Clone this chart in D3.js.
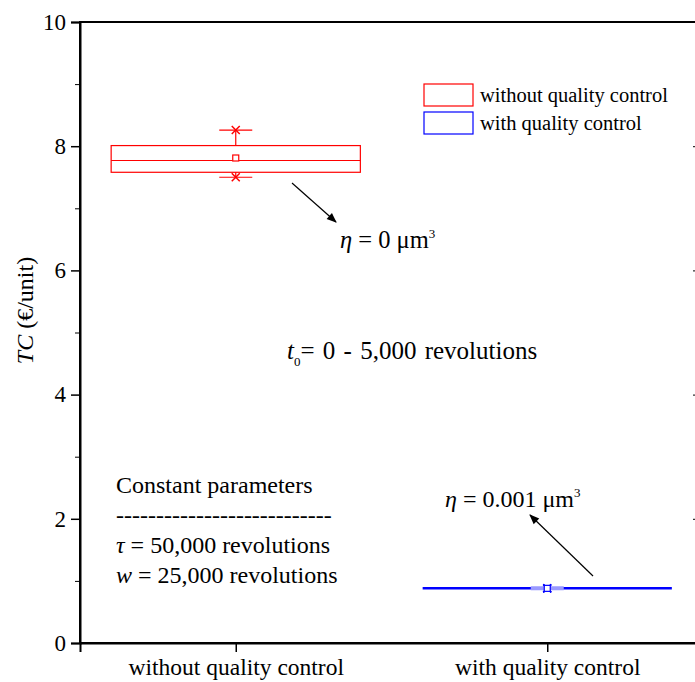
<!DOCTYPE html>
<html>
<head>
<meta charset="utf-8">
<script src="https://cdn.jsdelivr.net/npm/d3@7"></script>
<style>
  body { margin: 0; background: #fff; }
  svg text { font-family: "Liberation Serif", serif; fill: #000; }
</style>
</head>
<body>
<div id="chart"></div>
<script>
// data
var categories = ["without quality control", "with quality control"];
var colors = ["#ff0000", "#0000ff"];
var q1 = [7.58, 0.88];
var median = [7.77, 0.88];
var q3 = [8.01, 0.88];
var mean = [7.81, 0.88];
var minVal = [7.50, 0.88];
var maxVal = [8.26, 0.88];
var yTicks = [0, 2, 4, 6, 8, 10];
var yMinor = [1, 3, 5, 7, 9];

var W = 695, H = 682;
var margin = { top: 22, right: -8, bottom: 39, left: 80 };
var width = W - margin.left - margin.right;
var height = H - margin.top - margin.bottom;
var serif = "Liberation Serif";

var svg = d3.select("#chart").append("svg")
    .attr("width", W)
    .attr("height", H)
    .style("font-family", serif)
    .append("g")
    .attr("transform", "translate(" + margin.left + "," + margin.top + ")");

var x = d3.scaleLinear().domain([0.5, 2.5]).range([0, width]);
var y = d3.scaleLinear().domain([0, 10]).range([height, 0]);
var boxW = (x(2) - x(1)) * 0.8;
var capW = 33;

var defs = svg.append("defs");
defs.append("marker")
    .attr("id", "arrow")
    .attr("viewBox", "0 0 10 10")
    .attr("refX", 9).attr("refY", 5)
    .attr("markerWidth", 14).attr("markerHeight", 10)
    .attr("markerUnits", "userSpaceOnUse")
    .attr("orient", "auto")
    .append("path")
    .attr("d", "M0,1 L10,5 L0,9 Z")
    .attr("fill", "#000");

// frame
svg.append("rect")
    .attr("width", width).attr("height", height)
    .attr("fill", "none").attr("stroke", "#000").attr("stroke-width", 2);

// left axis
var gY = svg.append("g")
    .call(d3.axisLeft(y).tickValues(yTicks).tickSize(9).tickPadding(5).tickFormat(d3.format("d")));
gY.attr("font-family", serif);
gY.select(".domain").attr("stroke-width", 2);
gY.selectAll(".tick line").attr("stroke-width", 1.5);
gY.selectAll("text").style("font-size", "23px").style("font-family", serif);
svg.append("g")
    .call(d3.axisLeft(y).tickValues(yMinor).tickSize(5).tickFormat(""))
    .call(function (g) { g.select(".domain").remove(); });

// right ticks (inward)
svg.append("g")
    .attr("transform", "translate(" + width + ",0)")
    .call(d3.axisLeft(y).tickValues(yTicks).tickSize(10).tickFormat(""))
    .call(function (g) { g.select(".domain").remove(); });

// bottom axis
var gX = svg.append("g")
    .attr("transform", "translate(0," + height + ")")
    .call(d3.axisBottom(x).tickValues([1, 2]).tickSize(9).tickPadding(6)
        .tickFormat(function (d) { return categories[d - 1]; }));
gX.attr("font-family", serif);
gX.select(".domain").attr("stroke-width", 2);
gX.selectAll(".tick line").attr("stroke-width", 1.5);
gX.selectAll("text").style("font-size", "23.5px").style("font-family", serif);

// y label
svg.append("text")
    .attr("transform", "translate(" + (-47) + "," + (height / 2 - 22) + ") rotate(-90)")
    .attr("text-anchor", "middle")
    .style("font-size", "24px")
    .html('<tspan font-style="italic">TC</tspan> (€/unit)');

// boxes
categories.forEach(function (c, i) {
    var cx = x(i + 1);
    var g = svg.append("g").attr("stroke", colors[i]).attr("fill", "none").attr("stroke-width", 1.2);
    if (i === 1) {
        // degenerate box: draw as a single thick line
        g.append("line")
            .attr("x1", cx - boxW / 2).attr("x2", cx + boxW / 2)
            .attr("y1", y(median[i])).attr("y2", y(median[i]))
            .attr("stroke-width", 2.5);
        g.append("line")
            .attr("x1", cx - capW / 2).attr("x2", cx + capW / 2)
            .attr("y1", y(maxVal[i])).attr("y2", y(maxVal[i]))
            .attr("stroke", "#9999ff").attr("stroke-width", 4);
    } else {
        g.append("line")
            .attr("x1", cx).attr("x2", cx)
            .attr("y1", y(q3[i])).attr("y2", y(maxVal[i]));
        g.append("line")
            .attr("x1", cx).attr("x2", cx)
            .attr("y1", y(q1[i])).attr("y2", y(minVal[i]));
        g.append("rect")
            .attr("x", cx - boxW / 2).attr("width", boxW)
            .attr("y", y(q3[i])).attr("height", y(q1[i]) - y(q3[i]));
        g.append("line")
            .attr("x1", cx - boxW / 2).attr("x2", cx + boxW / 2)
            .attr("y1", y(median[i])).attr("y2", y(median[i]));
        [minVal[i], maxVal[i]].forEach(function (v) {
            g.append("line")
                .attr("x1", cx - capW / 2).attr("x2", cx + capW / 2)
                .attr("y1", y(v)).attr("y2", y(v));
        });
    }
    // min/max crosses
    [minVal[i], maxVal[i]].forEach(function (v) {
        g.append("path")
            .attr("d", "M" + (cx - 4) + "," + (y(v) - 4) + "L" + (cx + 4) + "," + (y(v) + 4) +
                "M" + (cx - 4) + "," + (y(v) + 4) + "L" + (cx + 4) + "," + (y(v) - 4))
            .attr("stroke-width", 1.5);
    });
    // mean square
    g.append("rect")
        .attr("x", cx - 3).attr("y", y(mean[i]) - 3)
        .attr("width", 6).attr("height", 6)
        .attr("fill", "#fff");
});

// legend
var legend = svg.append("g").attr("transform", "translate(344,62)");
categories.forEach(function (c, i) {
    legend.append("rect")
        .attr("x", 0).attr("y", i * 28)
        .attr("width", 49).attr("height", 22)
        .attr("fill", "none").attr("stroke", colors[i]).attr("stroke-width", 1.2);
    legend.append("text")
        .attr("x", 56).attr("y", i * 28 + 18)
        .style("font-size", "20.5px")
        .text(c);
});

// annotations
function note(xp, yp, html, size, spacing) {
    svg.append("text")
        .attr("x", xp).attr("y", yp)
        .style("font-size", (size || 24) + "px")
        .style("word-spacing", (spacing || 0) + "px")
        .html(html);
}
note(260, 226, '<tspan font-style="italic">η</tspan> = 0 μm<tspan dy="-10" font-size="13px">3</tspan>', 24.5);
note(207, 337, '<tspan font-style="italic">t</tspan><tspan dy="7" font-size="13px">0</tspan><tspan dy="-7">= 0 - 5,000 revolutions</tspan>', 25, 2);
note(365, 485, '<tspan font-style="italic">η</tspan> = 0.001 μm<tspan dy="-10" font-size="13px">3</tspan>');
note(36, 471, 'Constant parameters');
note(36, 501, '---------------------------');
note(36, 531, '<tspan font-style="italic">τ</tspan> = 50,000 revolutions');
note(36, 561, '<tspan font-style="italic">w</tspan> = 25,000 revolutions');

// arrows
svg.append("line")
    .attr("x1", 212).attr("y1", 161).attr("x2", 256).attr("y2", 200)
    .attr("stroke", "#000").attr("stroke-width", 1.2)
    .attr("marker-end", "url(#arrow)");
svg.append("line")
    .attr("x1", 513).attr("y1", 554).attr("x2", 450).attr("y2", 493)
    .attr("stroke", "#000").attr("stroke-width", 1.2)
    .attr("marker-end", "url(#arrow)");
</script>
</body>
</html>
